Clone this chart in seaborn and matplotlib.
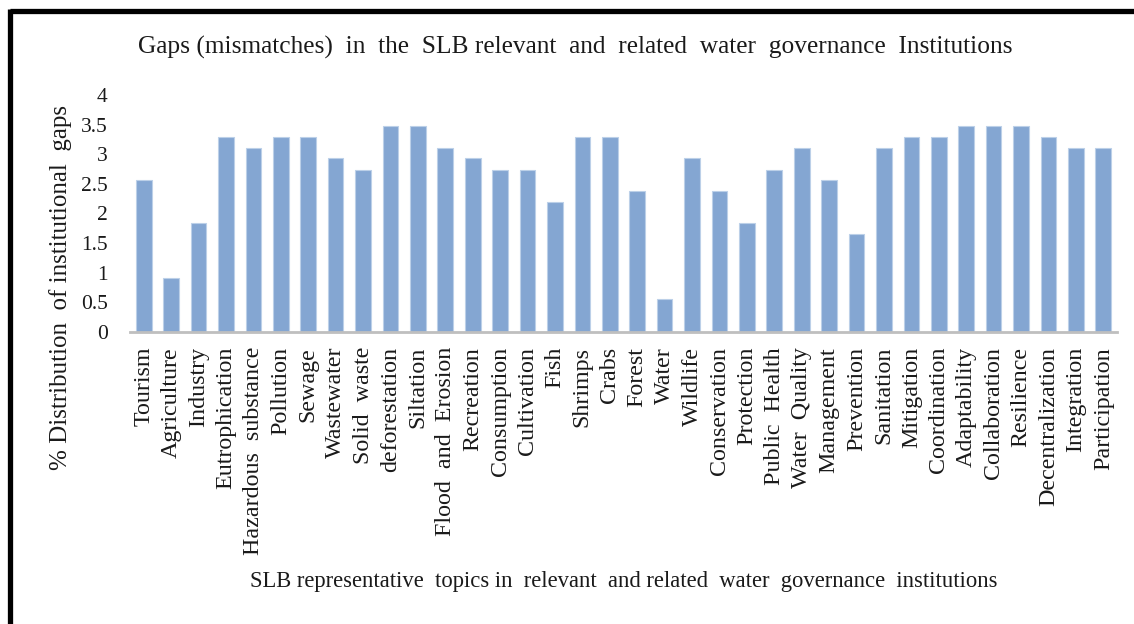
import matplotlib
matplotlib.use("Agg")
import matplotlib.pyplot as plt
import seaborn as sns
import pandas as pd
from matplotlib.lines import Line2D
from matplotlib.ticker import FuncFormatter

categories = ["Tourism", "Agriculture", "Industry", "Eutrophication", "Hazardous  substance",
              "Pollution", "Sewage", "Wastewater", "Solid  waste", "deforestation", "Siltation",
              "Flood  and  Erosion", "Recreation", "Consumption", "Cultivation", "Fish", "Shrimps",
              "Crabs", "Forest", "Water", "Wildlife", "Conservation", "Protection", "Public  Health",
              "Water  Quality", "Management", "Prevention", "Sanitation", "Mitigation", "Coordination",
              "Adaptability", "Collaboration", "Resilience", "Decentralization", "Integration",
              "Participation"]
values = [2.56, 0.91, 1.83, 3.29, 3.11, 3.29, 3.29, 2.93, 2.74, 3.48, 3.48,
          3.11, 2.93, 2.74, 2.74, 2.19, 3.29, 3.29, 2.38, 0.55, 2.93, 2.38, 1.83, 2.74,
          3.11, 2.56, 1.65, 3.11, 3.29, 3.29, 3.48, 3.48, 3.48, 3.29, 3.11, 3.11]
yticks = [0, 0.5, 1, 1.5, 2, 2.5, 3, 3.5, 4]

title = "Gaps (mismatches)  in  the  SLB relevant  and  related  water  governance  Institutions"
xlabel = "SLB representative  topics in  relevant  and related  water  governance  institutions"
ylabel = "% Distribution  of institutional  gaps"

sns.set_style("white")
plt.rcParams["font.family"] = ["Liberation Serif", "DejaVu Serif"]
text_color = "#1a1a1a"

df = pd.DataFrame({"topic": categories, "value": values})

fig = plt.figure(figsize=(11.34, 6.24), dpi=100)
ax = fig.add_axes([130 / 1134, 1 - 331.7 / 624, 987 / 1134, 236.7 / 624])

sns.barplot(data=df, x="topic", y="value", color="#84a6d2", saturation=1,
            width=0.57, edgecolor="#bcd0e8", linewidth=0.8, ax=ax)

ax.set_ylim(0, 4)
ax.set_xlim(-0.5, len(categories) - 0.5)
ax.set_yticks(yticks)
ax.yaxis.set_major_formatter(FuncFormatter(lambda v, p: f"{v:g}"))
for s in ["top", "right", "left"]:
    ax.spines[s].set_visible(False)
ax.spines["bottom"].set_color("#bfbfbf")
ax.spines["bottom"].set_linewidth(2)
ax.tick_params(axis="y", length=0, pad=16, labelsize=15.5, labelcolor=text_color)
ax.tick_params(axis="x", length=0, pad=11, labelsize=17.3, labelcolor=text_color, labelrotation=90)

ax.set_xlabel(xlabel, fontsize=16.3, color=text_color, va="center")
ax.xaxis.set_label_coords(0.5, (42 - 292.3) / 236.7)
ax.set_ylabel(ylabel, fontsize=18, color=text_color, va="center")
ax.yaxis.set_label_coords((61 - 130) / 987, (624 - 287 - 292.3) / 236.7)

fig.text(575 / 1134, 1 - 47 / 624, title, fontsize=18.3, color=text_color, ha="center", va="center")

# frame lines (top and left)
fig.add_artist(Line2D([10 / 1134, 1], [1 - 10.5 / 624, 1 - 10.5 / 624], color="black", lw=3.8,
                      transform=fig.transFigure, solid_capstyle="butt"))
fig.add_artist(Line2D([10 / 1134, 10 / 1134], [0, 1 - 8.5 / 624], color="black", lw=3.8,
                      transform=fig.transFigure, solid_capstyle="butt"))

fig.savefig("out.png", dpi=100)
